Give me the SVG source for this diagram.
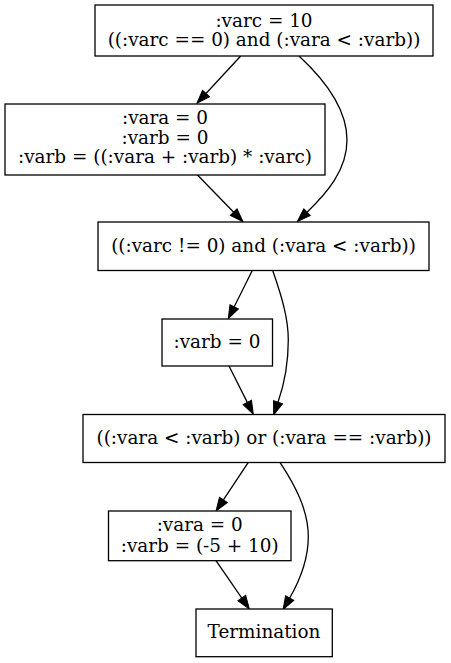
<svg xmlns="http://www.w3.org/2000/svg" width="451" height="663" viewBox="0 0 451 663">
<style>
.node rect { fill: #ffffff; stroke: #000000; stroke-width: 1.3; }
.node text { font-family: "DejaVu Serif", "Liberation Serif", serif; font-size: 18.4px; fill: #000000; text-anchor: middle; }
.edge path { fill: none; stroke: #000000; stroke-width: 1.3; }
</style>
<defs>
<marker id="arrow" markerUnits="userSpaceOnUse" markerWidth="14" markerHeight="10" refX="0" refY="4.7" orient="auto" overflow="visible">
<path d="M0,0 L13.3,4.7 L0,9.4 Z" fill="#000000" stroke="#000000" stroke-width="1"/>
</marker>
</defs>
<rect x="0" y="0" width="451" height="663" fill="#ffffff"/>
<g id="edges" class="edge">
<path d="M240.7,56 L206,93.5" marker-end="url(#arrow)"/>
<path d="M299,56 C325,80 347,108 347,140 C347,170 327,193 307,212.2" marker-end="url(#arrow)"/>
<path d="M197,174.5 L233.7,212.2" marker-end="url(#arrow)"/>
<path d="M252.3,270.5 L234.2,306.8" marker-end="url(#arrow)"/>
<path d="M272.7,270.5 C283,300 288.3,320 288.3,340 C288.3,365 284,385 278,402.3" marker-end="url(#arrow)"/>
<path d="M229,366 L247.3,402.4" marker-end="url(#arrow)"/>
<path d="M248.3,462.3 L223.4,499.9" marker-end="url(#arrow)"/>
<path d="M280,462.3 C295,485 308.3,510 308.3,536.7 C308.3,560 300,580 289.7,598" marker-end="url(#arrow)"/>
<path d="M216,560.7 L241.8,598.1" marker-end="url(#arrow)"/>
</g>
<g id="node1" class="node">
<rect x="95" y="5" width="338" height="51"/>
<text x="264" y="26.5">:varc = 10</text>
<text x="264" y="46">((:varc == 0) and (:vara &lt; :varb))</text>
</g>
<g id="node2" class="node">
<rect x="5" y="104" width="320" height="71"/>
<text x="165" y="124">:vara = 0</text>
<text x="165" y="143.5">:varb = 0</text>
<text x="165" y="163">:varb = ((:vara + :varb) * :varc)</text>
</g>
<g id="node3" class="node">
<rect x="98" y="222" width="331" height="48.5"/>
<text x="263.5" y="252">((:varc != 0) and (:vara &lt; :varb))</text>
</g>
<g id="node4" class="node">
<rect x="162" y="319" width="110.5" height="47"/>
<text x="217" y="348">:varb = 0</text>
</g>
<g id="node5" class="node">
<rect x="83" y="414.5" width="362" height="48"/>
<text x="264" y="443.5">((:vara &lt; :varb) or (:vara == :varb))</text>
</g>
<g id="node6" class="node">
<rect x="108.5" y="511" width="182.5" height="49.7"/>
<text x="199.7" y="531">:vara = 0</text>
<text x="199.7" y="551.5">:varb = (-5 + 10)</text>
</g>
<g id="node7" class="node">
<rect x="196" y="609" width="136.3" height="47.7"/>
<text x="264" y="638.3">Termination</text>
</g>
</svg>
